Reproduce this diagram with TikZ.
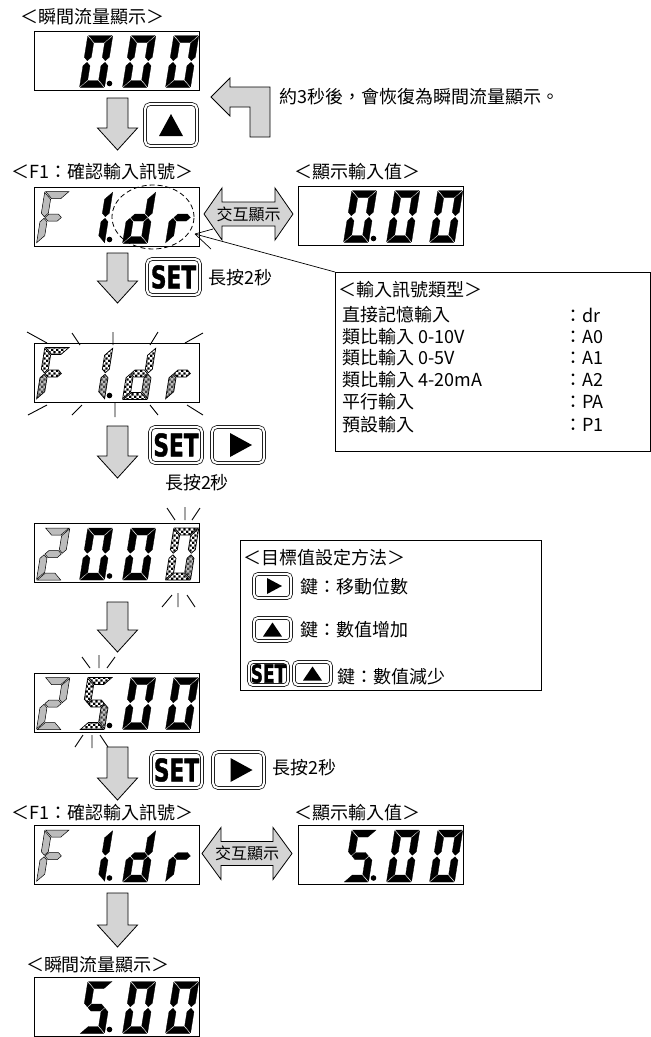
\documentclass[tikz,border=0pt]{standalone}
\usepackage{fontspec}
\usepackage{graphicx}
\setmainfont{Noto Sans CJK TC}
\newfontfamily\btnfont{DejaVu Sans}[BoldFeatures={FakeBold=1.5}]
\usetikzlibrary{patterns.meta,shapes.geometric}
\definecolor{arrowgray}{RGB}{212,212,212}
\definecolor{seggray}{RGB}{188,188,188}

\tikzdeclarepattern{
  name=chk, type=uncolored,
  bounding box={(0pt,0pt) and (5.2pt,5.2pt)},
  tile size={(5.2pt,5.2pt)},
  code={\fill (0pt,0pt) rectangle (2.6pt,2.6pt); \fill (2.6pt,2.6pt) rectangle (5.2pt,5.2pt);}
}

% seven-segment shapes (local frame, y up, width 25, height 52, thickness 7)
\def\sega{(0.8,52) -- (24.2,52) -- (17.2,45) -- (7.8,45) -- cycle}
\def\segb{(25,51.2) -- (25,30.3) -- (21.5,26.8) -- (18,30.3) -- (18,44.2) -- cycle}
\def\segc{(25,0.8) -- (25,21.7) -- (21.5,25.2) -- (18,21.7) -- (18,7.8) -- cycle}
\def\segd{(0.8,0) -- (24.2,0) -- (17.2,7) -- (7.8,7) -- cycle}
\def\sege{(0,0.8) -- (0,21.7) -- (3.5,25.2) -- (7,21.7) -- (7,7.8) -- cycle}
\def\segf{(0,51.2) -- (0,30.3) -- (3.5,26.8) -- (7,30.3) -- (7,44.2) -- cycle}
\def\segg{(4.3,26) -- (7.8,29.5) -- (17.2,29.5) -- (20.7,26) -- (17.2,22.5) -- (7.8,22.5) -- cycle}

\newcommand\sdig[4]{%
  \begin{scope}[shift={(#1.south west)}, xshift={3+43*(#2-1)}, yshift=3, y=1pt, xslant=0.16]
    \foreach \s in {#3}{\path[#4] \csname seg\s\endcsname;}
  \end{scope}}
\newcommand\dpt[2]{\fill[shift={(#1.south west)}] ({3+43*(#2-1)+30},-7) circle (2.8);}
\newcommand\dnarr[3]{\draw[barrow] ({#1-10.5},#2) -- ({#1+10.5},#2) -- ({#1+10.5},{#3-22}) -- ({#1+20},{#3-22}) -- (#1,#3) -- ({#1-20},{#3-22}) -- ({#1-10.5},{#3-22}) -- cycle;}
\newcommand\xarr[5]{\draw[barrow] (#2,#1) -- (#3,{#1-26}) -- (#3,{#1-12}) -- (#4,{#1-12}) -- (#4,{#1-26}) -- (#5,#1) -- (#4,{#1+26}) -- (#4,{#1+12}) -- (#3,{#1+12}) -- (#3,{#1+26}) -- cycle;}
\newcommand\SETtxt[2]{{\btnfont\bfseries\fontsize{#1}{#1}\selectfont\scalebox{#2}[1]{SET}}}

\tikzset{
  lbl/.style={inner sep=0, font=\fontsize{18}{21}\selectfont},
  smalllbl/.style={inner sep=0, font=\fontsize{16}{18}\selectfont},
  disp/.style={draw, line width=1, minimum width=165, minimum height=59, inner sep=0},
  barrow/.style={draw, line width=0.8, fill=arrowgray, line join=miter},
  btn/.style={draw, double, double distance=2.2, line width=0.7, rounded corners=5, inner sep=0},
  segon/.style={draw=black, line width=0.3, fill=black},
  segoff/.style={draw=black, line width=0.5, fill=seggray},
  segchk/.style={draw=black, line width=0.7, pattern=chk},
  segchg/.style={draw=black, line width=0.7, preaction={fill=seggray}, pattern=chk, pattern color=gray!50!black},
  flash/.style={line width=0.9},
  panel/.style={draw, line width=0.9, inner sep=0, anchor=north west},
  leader/.style={line width=0.7},
}

\begin{document}
\begin{tikzpicture}[x=1pt, y=-1pt]
\useasboundingbox (0,0) rectangle (651,1037);

% ---------- top: instantaneous flow ----------
\node[lbl] (l1) at (92.5,17) {＜瞬間流量顯示＞};
\node[disp] (d1) at (116.5,60.5) {};
\sdig{d1}{2}{a,b,c,d,e,f}{segon}
\sdig{d1}{3}{a,b,c,d,e,f}{segon}
\sdig{d1}{4}{a,b,c,d,e,f}{segon}
\dpt{d1}{2}

\dnarr{117.5}{98}{150}
\node[btn, minimum width=52, minimum height=42] (up1) at (171,125) {};
\fill[shift={(up1.center)}] (-12,11) -- (12,11) -- (0,-11) -- cycle;

\draw[barrow] (211,97) -- (230,78) -- (230,87) -- (270,87) -- (270,137) -- (250,137) -- (250,107) -- (230,107) -- (230,116) -- cycle;
\node[lbl, anchor=west] (note) at (279,97) {約3秒後，會恢復為瞬間流量顯示。};

% ---------- F1 check ----------
\node[lbl] (l2) at (102.5,172) {＜F1：確認輸入訊號＞};
\node[disp] (d2) at (116.5,216.5) {};
\sdig{d2}{1}{a,f,g,e}{segoff}
\sdig{d2}{2}{b,c}{segon}
\dpt{d2}{2}
\sdig{d2}{3}{b,c,d,e,g}{segon}
\sdig{d2}{4}{e,g}{segon}
\node[draw, ellipse, dashed, dash pattern=on 5pt off 3pt, line width=0.8, minimum width=82, minimum height=64] (el) at (153,217) {};

\xarr{214}{204}{222}{275}{293}
\node[smalllbl] (x1) at (248.5,214) {交互顯示};

\node[lbl] (l3) at (357.5,172) {＜顯示輸入值＞};
\node[disp] (d3) at (380.5,215.5) {};
\sdig{d3}{2}{a,b,c,d,e,f}{segon}
\sdig{d3}{3}{a,b,c,d,e,f}{segon}
\sdig{d3}{4}{a,b,c,d,e,f}{segon}
\dpt{d3}{2}

\dnarr{117.5}{253}{303}
\node[btn, minimum width=53, minimum height=36] (set1) at (173.5,277) {\SETtxt{31}{0.7}};
\node[lbl, anchor=west] (h1) at (208,278) {長按2秒};

% info box
\node[panel, minimum width=315, minimum height=179] (info) at (335,272) {};
\coordinate (ptr) at (195,234);
\coordinate (p1) at (213,229);
\coordinate (p2) at (211,249);
\draw[leader] (ptr) -- (info.north west);
\draw[leader] (ptr) -- (p1);
\draw[leader] (ptr) -- (p2);
\node[lbl, anchor=west] (i0) at (338,290) {＜輸入訊號類型＞};
\node[lbl, anchor=west] (i1) at (342,315) {直接記憶輸入};
\node[lbl, anchor=west] (i2) at (342,337) {類比輸入 0-10V};
\node[lbl, anchor=west] (i3) at (342,358) {類比輸入 0-5V};
\node[lbl, anchor=west] (i4) at (342,380) {類比輸入 4-20mA};
\node[lbl, anchor=west] (i5) at (342,402) {平行輸入};
\node[lbl, anchor=west] (i6) at (342,425) {預設輸入};
\node[lbl, anchor=west] (v1) at (564,315) {：dr};
\node[lbl, anchor=west] (v2) at (564,337) {：A0};
\node[lbl, anchor=west] (v3) at (564,358) {：A1};
\node[lbl, anchor=west] (v4) at (564,380) {：A2};
\node[lbl, anchor=west] (v5) at (564,402) {：PA};
\node[lbl, anchor=west] (v6) at (564,425) {：P1};

% ---------- blinking F1.dr ----------
\node[disp] (d4) at (116.5,372.5) {};
\sdig{d4}{1}{a,f,g}{segchk}
\sdig{d4}{1}{e}{segchg}
\sdig{d4}{2}{b}{segchk}
\sdig{d4}{2}{c}{segchg}
\dpt{d4}{2}
\sdig{d4}{3}{b,d,e,g}{segchk}
\sdig{d4}{3}{c}{segchg}
\sdig{d4}{4}{g}{segchk}
\sdig{d4}{4}{e}{segchg}
\draw[flash] (27,332) -- (47,343) (72,333) -- (80,345) (113,332) -- (113,345) (158,332) -- (150,345) (203,333) -- (185,343);
\draw[flash] (28,415) -- (47,405) (72,415) -- (82,405) (115,417) -- (115,403) (158,415) -- (150,405) (203,415) -- (187,405);

\dnarr{117.5}{426}{478}
\node[btn, minimum width=52, minimum height=36] (set2) at (176,445) {\SETtxt{31}{0.7}};
\node[btn, minimum width=52, minimum height=36] (rt1) at (238,445) {};
\fill[shift={(rt1.center)}] (-8,-12) -- (-8,12) -- (14,0) -- cycle;
\node[lbl] (h2) at (197,483) {長按2秒};

% ---------- 20.00 ----------
\node[disp] (d5) at (116.5,553) {};
\sdig{d5}{1}{a,b,g,e,d}{segoff}
\sdig{d5}{2}{a,b,c,d,e,f}{segon}
\dpt{d5}{2}
\sdig{d5}{3}{a,b,c,d,e,f}{segon}
\sdig{d5}{4}{a,b,d,e,f}{segchk}
\sdig{d5}{4}{c}{segchg}
\draw[flash] (167,508) -- (175,520) (185,507) -- (185,520) (200,508) -- (192,520);
\draw[flash] (162,607) -- (172,595) (178,607) -- (178,593) (195,607) -- (187,595);

\dnarr{117.5}{602}{652}

% ---------- 25.00 ----------
\node[disp] (d6) at (116.5,702.5) {};
\sdig{d6}{1}{a,b,g,e,d}{segoff}
\sdig{d6}{2}{a,f,g,d}{segchk}
\sdig{d6}{2}{c}{segchg}
\dpt{d6}{2}
\sdig{d6}{3}{a,b,c,d,e,f}{segon}
\sdig{d6}{4}{a,b,c,d,e,f}{segon}
\draw[flash] (82,657) -- (90,668) (99,655) -- (99,668) (115,657) -- (107,668);
\draw[flash] (75,747) -- (83,735) (92,748) -- (92,735) (108,747) -- (100,735);

% setting method panel
\node[panel, minimum width=301, minimum height=150] (sett) at (240,540) {};
\node[lbl, anchor=west] (s0) at (243,558) {＜目標值設定方法＞};
\node[btn, minimum width=37, minimum height=24, rounded corners=4] (rt2) at (272.5,586) {};
\fill[shift={(rt2.center)}] (-5.5,-8) -- (-5.5,8) -- (9.5,0) -- cycle;
\node[lbl, anchor=west] (s1) at (300,587) {鍵：移動位數};
\node[btn, minimum width=37, minimum height=23, rounded corners=4] (up2) at (272.5,629.5) {};
\fill[shift={(up2.center)}] (-9.5,7) -- (9.5,7) -- (0,-7) -- cycle;
\node[lbl, anchor=west] (s2) at (300,630) {鍵：數值增加};
\node[btn, minimum width=39, minimum height=23, rounded corners=4] (set3) at (268.5,673.5) {\SETtxt{25}{0.68}};
\node[btn, minimum width=37, minimum height=23, rounded corners=4] (up3) at (312.5,673.5) {};
\fill[shift={(up3.center)}] (-9.5,7) -- (9.5,7) -- (0,-7) -- cycle;
\node[lbl, anchor=west] (s3) at (337,677) {鍵：數值減少};

\dnarr{117.5}{747}{800}
\node[btn, minimum width=51, minimum height=36] (set4) at (176.5,770) {\SETtxt{31}{0.7}};
\node[btn, minimum width=51, minimum height=36] (rt3) at (238.5,770) {};
\fill[shift={(rt3.center)}] (-8,-12) -- (-8,12) -- (14,0) -- cycle;
\node[lbl, anchor=west] (h3) at (272,768) {長按2秒};

% ---------- F1 check again ----------
\node[lbl] (l4) at (102.5,813) {＜F1：確認輸入訊號＞};
\node[lbl] (l5) at (357,813) {＜顯示輸入值＞};
\node[disp] (d7) at (116.5,855) {};
\sdig{d7}{1}{a,f,g,e}{segoff}
\sdig{d7}{2}{b,c}{segon}
\dpt{d7}{2}
\sdig{d7}{3}{b,c,d,e,g}{segon}
\sdig{d7}{4}{e,g}{segon}
\xarr{853.5}{202}{221}{273}{292}
\node[smalllbl] (x2) at (247,853.5) {交互顯示};
\node[disp] (d8) at (380.5,855) {};
\sdig{d8}{2}{a,f,g,c,d}{segon}
\dpt{d8}{2}
\sdig{d8}{3}{a,b,c,d,e,f}{segon}
\sdig{d8}{4}{a,b,c,d,e,f}{segon}

\dnarr{117.5}{893}{947}

% ---------- final ----------
\node[lbl] (l6) at (98,965) {＜瞬間流量顯示＞};
\node[disp] (d9) at (116.5,1006.5) {};
\sdig{d9}{2}{a,f,g,c,d}{segon}
\dpt{d9}{2}
\sdig{d9}{3}{a,b,c,d,e,f}{segon}
\sdig{d9}{4}{a,b,c,d,e,f}{segon}
\end{tikzpicture}
\end{document}
